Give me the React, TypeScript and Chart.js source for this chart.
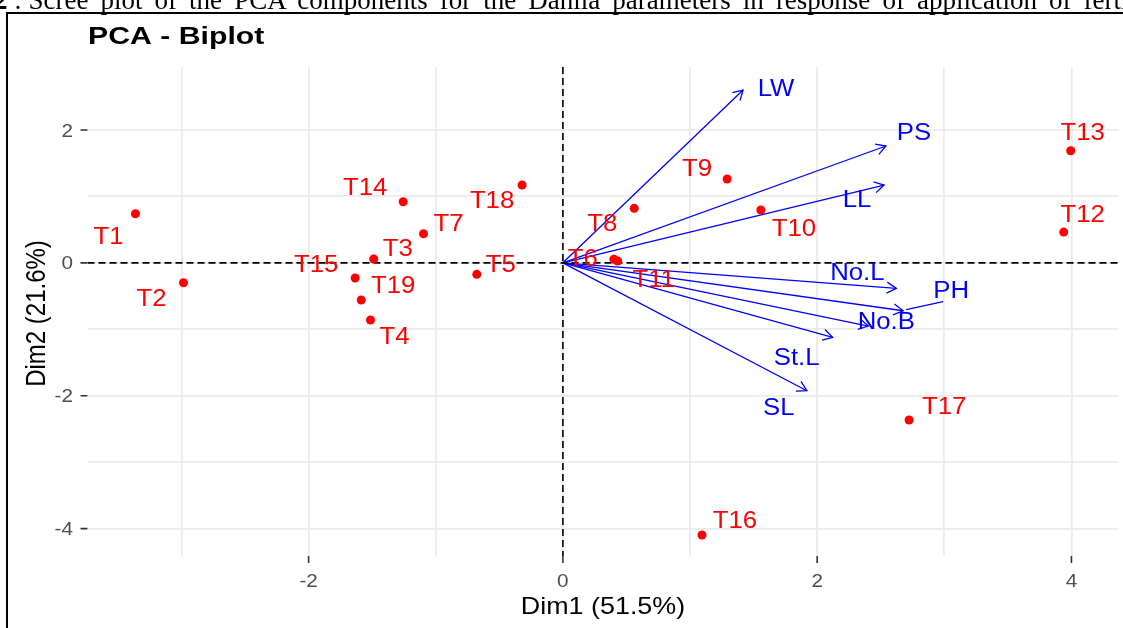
import React, { useEffect, useRef } from 'react';
import { Chart, registerables } from 'chart.js';

Chart.register(...registerables);

// ---- data ----
const individuals = ['T1', 'T2', 'T3', 'T4', 'T5', 'T6', 'T7', 'T8', 'T9', 'T10', 'T11', 'T12', 'T13', 'T14', 'T15', 'T16', 'T17', 'T18', 'T19'];
const indDim1 = [-3.362, -2.984, -1.488, -1.513, -0.677, 0.401, -1.096, 0.561, 1.292, 1.557, 0.431, 3.939, 3.994, -1.256, -1.634, 1.094, 2.723, -0.321, -1.586];
const indDim2 = [0.739, -0.299, 0.057, -0.861, -0.173, 0.053, 0.438, 0.82, 1.261, 0.795, 0.027, 0.463, 1.687, 0.919, -0.229, -4.096, -2.366, 1.171, -0.56];

const variables = ['LW', 'PS', 'LL', 'No.L', 'PH', 'No.B', 'St.L', 'SL'];
const varDim1 = [1.417, 2.541, 2.526, 2.623, 2.676, 2.402, 2.122, 1.919];
const varDim2 = [2.6, 1.758, 1.171, -0.384, -0.721, -0.951, -1.121, -1.925];

const xTickLabels = ['-2', '0', '2', '4'];
const yTickLabels = ['2', '0', '-2', '-4'];

const chartTitle = 'PCA - Biplot';
const xAxisTitle = 'Dim1 (51.5%)';
const yAxisTitle = 'Dim2 (21.6%)';

// ---- label layout (pixel offsets of label centres from their mark) ----
const indLabelOffset: [number, number][] = [
  [-27, 22], [-32, 15], [24, -11], [24, 16], [24, -11], [-31, -2], [25, -11], [-32, 14], [-30, -11], [33, 18],
  [36, 18], [19, -18], [12, -19], [-38, -15], [-39, -14], [33, -15], [35, -14], [-30, 15], [32, -15],
];
const varLabelOffset: [number, number][] = [
  [33, -2], [28, -14], [-27, 14], [-39, -17], [48, -21], [18, -5], [-36, 19], [-28, 16],
];

const SANS = '"Liberation Sans", Arial, sans-serif';
const RED = '#ff0000';
const BLUE = '#0000ff';

function drawText(
  ctx: CanvasRenderingContext2D,
  text: string,
  x: number,
  y: number,
  font: string,
  color: string,
  align: 'left' | 'center' | 'right',
  sx: number
) {
  ctx.save();
  ctx.font = font;
  ctx.fillStyle = color;
  ctx.textBaseline = 'alphabetic';
  ctx.textAlign = 'left';
  const w = ctx.measureText(text).width * sx;
  const left = align === 'center' ? x - w / 2 : align === 'right' ? x - w : x;
  ctx.translate(left, y);
  ctx.scale(sx, 1);
  ctx.fillText(text, 0, 0);
  ctx.restore();
}

export default function App() {
  const ref = useRef<HTMLCanvasElement>(null);

  useEffect(() => {
    const canvas = ref.current;
    if (!canvas) return;

    const pointData = indDim1.map((x, i) => ({ x, y: indDim2[i] }));
    const arrowSets = variables.map((v, i) => ({
      type: 'line' as const,
      label: v,
      data: [
        { x: 0, y: 0 },
        { x: varDim1[i], y: varDim2[i] },
      ],
      borderColor: BLUE,
      borderWidth: 1.3,
      pointRadius: 0,
      showLine: true,
      fill: false,
      tension: 0,
    }));

    const biplot = {
      id: 'biplot',
      beforeDatasetDraw(chart: any, args: any) {
        if (args.index !== 0) return;
        const ctx: CanvasRenderingContext2D = chart.ctx;
        const ca = chart.chartArea;
        const xs = chart.scales.x;
        const ys = chart.scales.y;
        ctx.save();
        ctx.beginPath();
        ctx.rect(ca.left, ca.top, ca.right - ca.left, ca.bottom - ca.top);
        ctx.clip();
        // arrow heads
        const ox = xs.getPixelForValue(0);
        const oy = ys.getPixelForValue(0);
        ctx.strokeStyle = BLUE;
        ctx.lineWidth = 1.3;
        varDim1.forEach((vx, i) => {
          const tx = xs.getPixelForValue(vx);
          const ty = ys.getPixelForValue(varDim2[i]);
          const ang = Math.atan2(ty - oy, tx - ox);
          const L = 11;
          const a = Math.PI / 6;
          ctx.beginPath();
          ctx.moveTo(tx - L * Math.cos(ang - a), ty - L * Math.sin(ang - a));
          ctx.lineTo(tx, ty);
          ctx.lineTo(tx - L * Math.cos(ang + a), ty - L * Math.sin(ang + a));
          ctx.stroke();
        });
        // dashed axis lines
        ctx.strokeStyle = '#000000';
        ctx.lineWidth = 1.6;
        ctx.setLineDash([7, 4]);
        ctx.beginPath();
        ctx.moveTo(ca.left, oy);
        ctx.lineTo(ca.right, oy);
        ctx.moveTo(ox, ca.top);
        ctx.lineTo(ox, ca.bottom);
        ctx.stroke();
        ctx.restore();
      },
      afterDatasetsDraw(chart: any) {
        const ctx: CanvasRenderingContext2D = chart.ctx;
        const xs = chart.scales.x;
        const ys = chart.scales.y;
        const labelFont = `23px ${SANS}`;
        const capHalf = 0.716 * 23 / 2;
        // PH connector segment
        const phIndex = variables.indexOf('PH');
        if (phIndex >= 0) {
          const tx = xs.getPixelForValue(varDim1[phIndex]);
          const ty = ys.getPixelForValue(varDim2[phIndex]);
          ctx.save();
          ctx.strokeStyle = BLUE;
          ctx.lineWidth = 1.3;
          ctx.beginPath();
          ctx.moveTo(tx + 3, ty - 1);
          ctx.lineTo(tx + 40, ty - 9);
          ctx.stroke();
          ctx.restore();
        }
        individuals.forEach((name, i) => {
          const px = xs.getPixelForValue(indDim1[i]);
          const py = ys.getPixelForValue(indDim2[i]);
          const [dx, dy] = indLabelOffset[i];
          drawText(ctx, name, px + dx, py + dy + capHalf, labelFont, RED, 'center', 1.12);
        });
        variables.forEach((name, i) => {
          const px = xs.getPixelForValue(varDim1[i]);
          const py = ys.getPixelForValue(varDim2[i]);
          const [dx, dy] = varLabelOffset[i];
          drawText(ctx, name, px + dx, py + dy + capHalf, labelFont, BLUE, 'center', 1.12);
        });
      },
      afterDraw(chart: any) {
        const ctx: CanvasRenderingContext2D = chart.ctx;
        const ca = chart.chartArea;
        const xs = chart.scales.x;
        const ys = chart.scales.y;
        // tick marks
        ctx.save();
        ctx.strokeStyle = '#333333';
        ctx.lineWidth = 1.6;
        ctx.beginPath();
        xTickLabels.forEach((t) => {
          const px = xs.getPixelForValue(Number(t));
          ctx.moveTo(px, ca.bottom);
          ctx.lineTo(px, ca.bottom + 7);
        });
        yTickLabels.forEach((t) => {
          const py = ys.getPixelForValue(Number(t));
          ctx.moveTo(ca.left - 7, py);
          ctx.lineTo(ca.left, py);
        });
        ctx.stroke();
        ctx.restore();
        // tick labels
        const tickFont = `18.5px ${SANS}`;
        xTickLabels.forEach((t) => {
          const px = xs.getPixelForValue(Number(t));
          drawText(ctx, t, px, ca.bottom + 31, tickFont, '#4d4d4d', 'center', 1.12);
        });
        yTickLabels.forEach((t) => {
          const py = ys.getPixelForValue(Number(t));
          drawText(ctx, t, ca.left - 14.5, py + 6.6, tickFont, '#4d4d4d', 'right', 1.12);
        });
        // axis titles
        const axisFont = `24px ${SANS}`;
        drawText(ctx, xAxisTitle, (ca.left + ca.right) / 2, ca.bottom + 58, axisFont, '#000000', 'center', 1.12);
        ctx.save();
        ctx.font = axisFont;
        const yw = ctx.measureText(yAxisTitle).width;
        ctx.translate(45, (ca.top + ca.bottom) / 2 + 2);
        ctx.scale(1.12, 1);
        ctx.rotate(-Math.PI / 2);
        ctx.fillStyle = '#000000';
        ctx.textBaseline = 'alphabetic';
        ctx.fillText(yAxisTitle, -yw / 2, 0);
        ctx.restore();
        // plot title
        drawText(ctx, chartTitle, 88, 44, `bold 24px ${SANS}`, '#000000', 'left', 1.26);
      },
    };

    const chart = new Chart(canvas, {
      type: 'scatter',
      data: {
        datasets: [
          {
            type: 'scatter' as const,
            label: 'individuals',
            data: pointData,
            backgroundColor: RED,
            borderWidth: 0,
            pointRadius: 4.5,
            pointHoverRadius: 4.5,
          },
          ...arrowSets,
        ] as any,
      },
      options: {
        responsive: false,
        devicePixelRatio: 1,
        animation: false,
        events: [],
        layout: { padding: { top: 67, left: 0, right: 0, bottom: 0 } },
        plugins: {
          legend: { display: false },
          tooltip: { enabled: false },
          title: { display: false },
        },
        scales: {
          x: {
            type: 'linear',
            min: -3.739,
            max: 4.37,
            afterBuildTicks: (scale: any) => {
              const t = [];
              for (let v = Math.ceil(scale.min); v <= Math.floor(scale.max); v++) t.push({ value: v });
              scale.ticks = t;
            },
            afterFit: (scale: any) => {
              scale.height = 72;
            },
            ticks: { display: false },
            grid: { color: '#ebebeb', lineWidth: 1.8, drawTicks: false },
            border: { display: false },
          },
          y: {
            type: 'linear',
            min: -4.412,
            max: 2.947,
            afterBuildTicks: (scale: any) => {
              const t = [];
              for (let v = Math.ceil(scale.min); v <= Math.floor(scale.max); v++) t.push({ value: v });
              scale.ticks = t;
            },
            afterFit: (scale: any) => {
              scale.width = 87.5;
            },
            ticks: { display: false },
            grid: { color: '#ebebeb', lineWidth: 1.8, drawTicks: false },
            border: { display: false },
          },
        },
      } as any,
      plugins: [biplot],
    });

    return () => {
      chart.destroy();
    };
  }, []);

  return (
    <div
      style={{
        position: 'fixed',
        left: 0,
        top: 0,
        width: 1123,
        height: 628,
        overflow: 'hidden',
        background: '#ffffff',
      }}
    >
      <canvas
        ref={ref}
        width={1123}
        height={628}
        style={{ position: 'absolute', left: 0, top: 0, width: 1123, height: 628 }}
      />
      <div
        style={{
          position: 'absolute',
          left: -6,
          top: -13,
          whiteSpace: 'nowrap',
          fontFamily: '"Liberation Serif", "Times New Roman", serif',
          fontSize: 27,
          lineHeight: '27px',
          color: '#000000',
        }}
      >
        <b>2</b> : <span style={{ wordSpacing: 5.3 }}>Scree plot of the PCA components for the Dahlia parameters in response of application of fertilizers</span>
      </div>
      <div
        style={{
          position: 'absolute',
          left: 6,
          top: 12,
          width: 2000,
          height: 2000,
          borderLeft: '2px solid #000000',
          borderTop: '2px solid #000000',
        }}
      />
    </div>
  );
}
